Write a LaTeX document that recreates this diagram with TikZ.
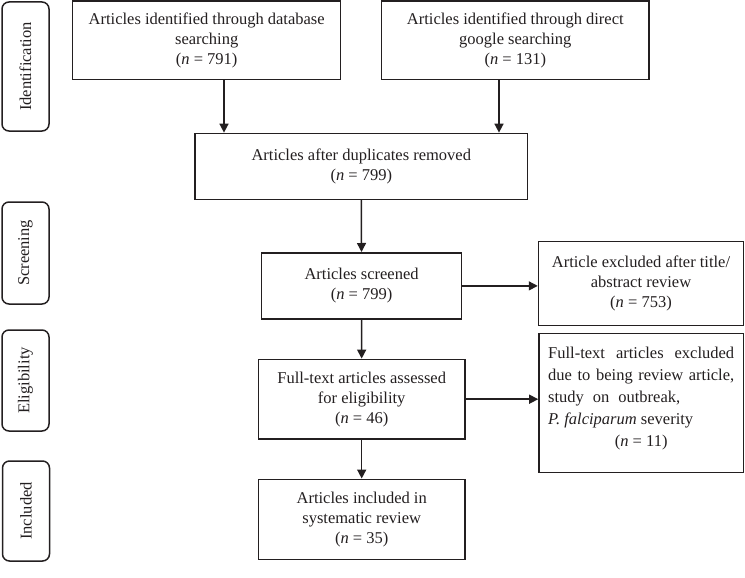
\documentclass[tikz,border=0pt]{standalone}
\usepackage{fontspec}
\setmainfont{Liberation Serif}
\usetikzlibrary{arrows.meta}
\definecolor{ink}{HTML}{231F20}
\newcommand{\fs}{\fontsize{16.5}{20}\selectfont}
\begin{document}
\begin{tikzpicture}[x=1pt,y=-1pt,
  box/.style={draw=ink,line width=1.5pt,align=center,inner sep=0pt,font=\fs,text=ink},
  lab/.style={draw=ink,line width=1.5pt,rounded corners=7pt,inner sep=0pt,font=\fs,text=ink,rotate=90},
  arr/.style={draw=ink,line width=1.5pt,-{Triangle[length=9pt,width=9pt]}}]
\useasboundingbox (0,0) rectangle (745,578);
% stage labels
\node[lab,minimum width=129pt,minimum height=47pt] (idl) at (25.5,66.5) {Identification};
\node[lab,minimum width=102pt,minimum height=47pt] (scl) at (25.5,253) {Screening};
\node[lab,minimum width=101pt,minimum height=47pt] (ell) at (25.5,380.5) {Eligibility};
\node[lab,minimum width=100pt,minimum height=47pt] (inl) at (26,511) {Included};
% boxes
\node[box,minimum width=268pt,minimum height=78.5pt] (A) at (206.7,40.2)
  {Articles identified through database\\searching\\(\textit{n} = 791)};
\node[box,minimum width=267.3pt,minimum height=78.3pt] (B) at (515.3,40.2)
  {Articles identified through direct\\google searching\\(\textit{n} = 131)};
\node[box,minimum width=332.7pt,minimum height=66pt] (C) at (361.3,166.4)
  {Articles after duplicates removed\\(\textit{n} = 799)};
\node[box,minimum width=200.2pt,minimum height=66.3pt] (D) at (361.6,285.9)
  {Articles screened\\(\textit{n} = 799)};
\node[box,minimum width=206.7pt,minimum height=79.7pt] (E) at (361.7,399.2)
  {Full-text articles assessed\\for eligibility\\(\textit{n} = 46)};
\node[box,minimum width=206.7pt,minimum height=80pt] (F) at (361.7,519.3)
  {Articles included in\\systematic review\\(\textit{n} = 35)};
\node[box,minimum width=205pt,minimum height=84pt] (G) at (641,283.7)
  {Article excluded after title/\\abstract review\\(\textit{n} = 753)};
\node[box,minimum width=204.5pt,minimum height=139.4pt] (H) at (641.2,403) {};
\node[align=left,inner sep=0pt,text=ink,font=\fontsize{16.5}{22}\selectfont] (Ht) at (641.2,398.5)
  {\makebox[186pt][s]{Full-text articles excluded}\\
   \makebox[186pt][s]{due to being review article,}\\
   \makebox[132pt][s]{study on outbreak,}\\
   \textit{P. falciparum} severity\\
   \makebox[186pt][c]{(\textit{n} = 11)}};
% connectors
\coordinate (ax) at (224,0);
\coordinate (bx) at (499,0);
\draw[arr] (A.south -| ax) -- (C.north -| ax);
\draw[arr] (B.south -| bx) -- (C.north -| bx);
\draw[arr] (C) -- (D);
\draw[arr] (D) -- (E);
\draw[arr] (E) -- (F);
\draw[arr] (D.east) -- (D.east -| G.west);
\draw[arr] (E.east) -- (E.east -| H.west);
\end{tikzpicture}
\end{document}
